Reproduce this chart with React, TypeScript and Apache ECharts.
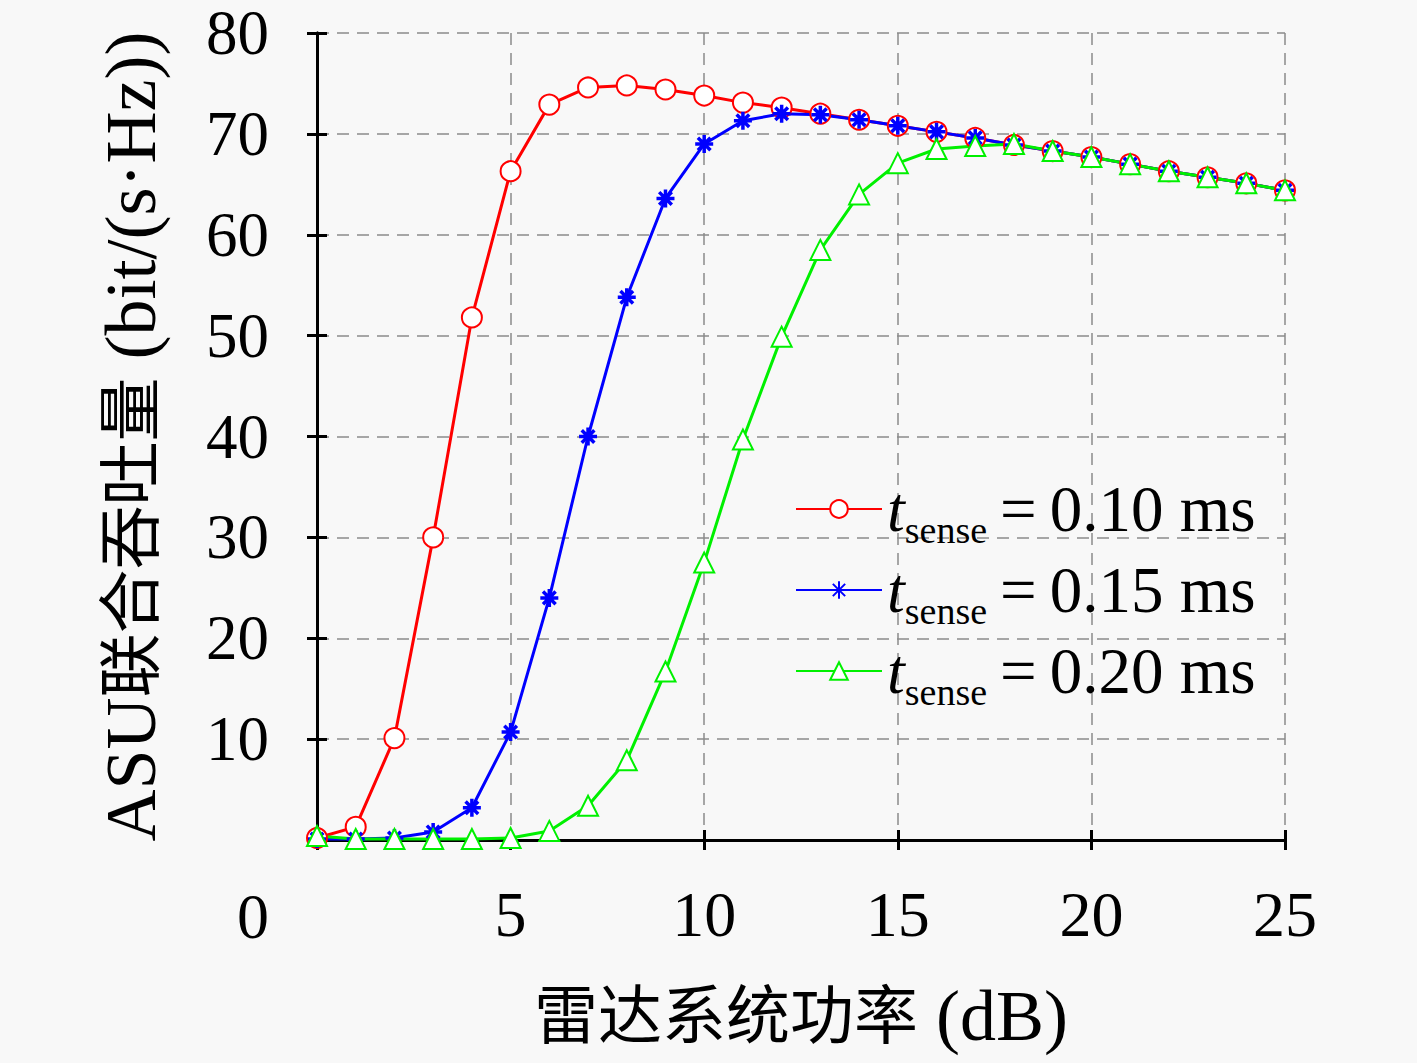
import { useEffect, useRef } from "react";
import * as echarts from "echarts";

const xValues = [0, 1, 2, 3, 4, 5, 6, 7, 8, 9, 10, 11, 12, 13, 14, 15, 16, 17, 18, 19, 20, 21, 22, 23, 24, 25];
const sense010 = [0.2, 1.3, 10.1, 30.0, 51.8, 66.3, 72.9, 74.6, 74.8, 74.4, 73.8, 73.1, 72.6, 72.0, 71.4, 70.8, 70.2, 69.6, 68.9, 68.3, 67.7, 67.0, 66.3, 65.7, 65.1, 64.4];
const sense015 = [0.1, 0.1, 0.2, 0.8, 3.2, 10.7, 24.0, 40.0, 53.8, 63.6, 69.0, 71.3, 72.0, 71.9, 71.4, 70.8, 70.2, 69.6, 68.9, 68.3, 67.7, 67.0, 66.3, 65.7, 65.1, 64.4];
const sense020 = [0.4, 0.1, 0.1, 0.1, 0.1, 0.2, 0.9, 3.4, 7.9, 16.7, 27.5, 39.7, 49.9, 58.5, 64.0, 67.1, 68.5, 68.8, 69.0, 68.3, 67.7, 67.0, 66.3, 65.7, 65.1, 64.4];
const seriesNames = ["0.10", "0.15", "0.20"];
const xTicks = [0, 5, 10, 15, 20, 25];
const yTicks = [0, 10, 20, 30, 40, 50, 60, 70, 80];

const serif = "'Liberation Serif', 'Noto Sans CJK SC', serif";
const asterisk = "path://M0,-10L0,10M-10,0L10,0M-7,-7L7,7M-7,7L7,-7";

export default function App() {
  const chartRef = useRef<HTMLDivElement>(null);

  useEffect(() => {
    if (!chartRef.current) return;
    const chart = echarts.init(chartRef.current, null, { renderer: "svg" });

    const pairs = (ys: number[]) => xValues.map((x, i) => [x, ys[i]]);
    const tickStyle = { show: true, inside: true, length: 10, lineStyle: { color: "#000", width: 3 } };
    const gridLine = { show: true, lineStyle: { color: "#8a8a8a", width: 1.5, type: [12, 8] as number[] } };
    const nameRich = {
      c: { fontSize: 64, fontFamily: serif, color: "#000", lineHeight: 72 },
      l: { fontSize: 72, fontFamily: serif, color: "#000", lineHeight: 72 },
    };

    const option: echarts.EChartsOption = {
      animation: false,
      backgroundColor: "#f8f8f8",
      textStyle: { fontFamily: serif },
      grid: { left: 317, right: 132, top: 33, bottom: 223 },
      legend: {
        orient: "vertical",
        left: 790,
        top: 464,
        itemWidth: 86,
        itemHeight: 22,
        itemGap: 1,
        data: seriesNames.map((n) => `t_${n}`),
        formatter: (name: string) => `{t|t}{s|sense}{v|\u2009=\u2009${name.slice(2)} ms}`,
        textStyle: {
          fontFamily: serif,
          color: "#000",
          rich: {
            t: { fontSize: 64, fontStyle: "italic", fontFamily: serif, lineHeight: 64 },
            s: { fontSize: 38, fontFamily: serif, lineHeight: 38, padding: [42, 0, 0, 0] },
            v: { fontSize: 65, fontFamily: serif, lineHeight: 64 },
          },
        },
      },
      xAxis: [
        {
          type: "value",
          min: xTicks[0],
          max: xTicks[xTicks.length - 1],
          interval: 5,
          name: "{c|雷达系统功率}{l| (dB)}",
          nameLocation: "middle",
          nameGap: 140,
          nameTextStyle: { rich: nameRich },
          axisLine: { show: true, onZero: false, lineStyle: { color: "#000", width: 3 } },
          axisTick: tickStyle,
          axisLabel: {
            fontSize: 64,
            lineHeight: 56,
            color: "#000",
            margin: 46,
            fontFamily: serif,
            formatter: (v: number) => (v === 0 ? "" : String(v)),
          },
          splitLine: gridLine,
        },
        {
          type: "value",
          position: "top",
          min: xTicks[0],
          max: xTicks[xTicks.length - 1],
          interval: 5,
          axisLine: { show: true, lineStyle: { color: "#000", width: 3 } },
          axisTick: tickStyle,
          axisLabel: { show: false },
          splitLine: { show: false },
        },
      ],
      yAxis: [
        {
          type: "value",
          min: yTicks[0],
          max: yTicks[yTicks.length - 1],
          interval: 10,
          name: "{l|ASU}{c|联合吞吐量}{l| (bit/(s·Hz))}",
          nameLocation: "middle",
          nameGap: 150,
          nameTextStyle: { rich: nameRich },
          axisLine: { show: true, onZero: false, lineStyle: { color: "#000", width: 3 } },
          axisTick: tickStyle,
          axisLabel: {
            fontSize: 63,
            lineHeight: 44,
            color: "#000",
            margin: 48,
            fontFamily: serif,
            formatter: (v: number) => (v === 0 ? "" : String(v)),
          },
          splitLine: gridLine,
        },
        {
          type: "value",
          position: "right",
          min: yTicks[0],
          max: yTicks[yTicks.length - 1],
          interval: 10,
          axisLine: { show: true, lineStyle: { color: "#000", width: 3 } },
          axisTick: tickStyle,
          axisLabel: { show: false },
          splitLine: { show: false },
        },
      ],
      graphic: [
        {
          type: "text",
          left: 237,
          top: 884,
          style: { text: "0", font: `64px ${serif}`, fill: "#000" },
        },
      ],
      series: [
        {
          name: `t_${seriesNames[0]}`,
          type: "line",
          data: pairs(sense010),
          symbol: "emptyCircle",
          symbolSize: 20,
          lineStyle: { color: "#ff0000", width: 3 },
          itemStyle: { color: "#ff0000", borderColor: "#ff0000", borderWidth: 2.5 },
        },
        {
          name: `t_${seriesNames[1]}`,
          type: "line",
          data: pairs(sense015),
          symbol: asterisk,
          symbolSize: 18,
          lineStyle: { color: "#0000ff", width: 3 },
          itemStyle: { color: "#0000ff", borderColor: "#0000ff", borderWidth: 3.5 },
        },
        {
          name: `t_${seriesNames[2]}`,
          type: "line",
          data: pairs(sense020),
          symbol: "emptyTriangle",
          symbolSize: 20,
          lineStyle: { color: "#00f000", width: 3 },
          itemStyle: { color: "#00f000", borderColor: "#00f000", borderWidth: 2.5 },
        },
      ],
    };

    chart.setOption(option);
    return () => {
      chart.dispose();
    };
  }, []);

  return (
    <div
      ref={chartRef}
      style={{ position: "fixed", left: 0, top: 0, width: 1417, height: 1063 }}
    />
  );
}
